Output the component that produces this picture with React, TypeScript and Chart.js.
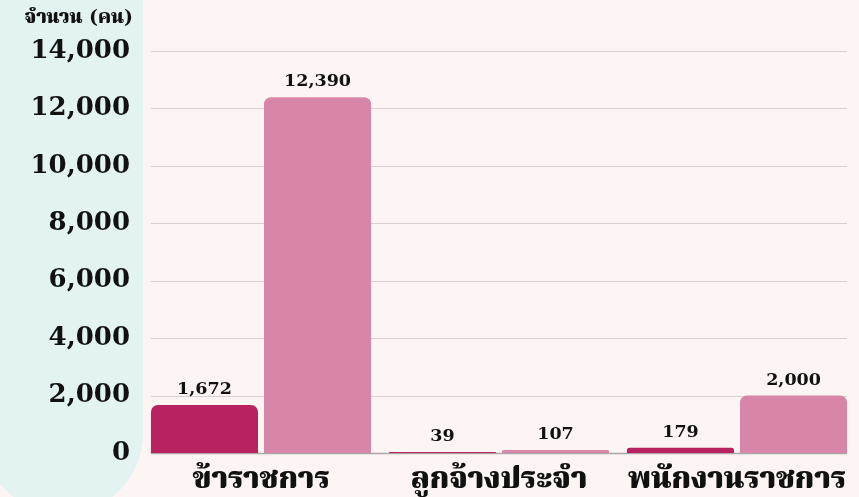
import React, { useEffect, useRef } from "react";
import { Chart, registerables } from "chart.js";

Chart.register(...registerables);

const categories = ["ข้าราชการ", "ลูกจ้างประจำ", "พนักงานราชการ"];
const seriesNames = ["ชาย", "หญิง"];
const seriesA = [1672, 39, 179];
const seriesB = [12390, 107, 2000];
const yTickValues = [0, 2000, 4000, 6000, 8000, 10000, 12000, 14000];
const yTitle = "จำนวน (คน)";

const colorA = "#b8235f";
const colorB = "#d886a7";
const bgColor = "#fdf5f4";
const panelColor = "#e3f3f2";
const gridColor = "#d8d0cf";
const zeroColor = "#aea6a6";
const numFont = "'DejaVu Serif', serif";
const thaiFont = "'DejaVu Serif', 'Noto Serif Thai', 'Noto Sans Thai', serif";

const fmt = (v: number) => v.toLocaleString("en-US");

const gridPlugin = {
  id: "customGrid",
  beforeDatasetsDraw(chart: any) {
    const ctx = chart.ctx;
    const ys = chart.scales.y;
    const first = chart.getDatasetMeta(0).data[0];
    const lastMeta = chart.getDatasetMeta(chart.data.datasets.length - 1).data;
    const last = lastMeta[lastMeta.length - 1];
    const left = first.x - first.width / 2;
    const right = last.x + last.width / 2;
    ctx.save();
    yTickValues.forEach((v) => {
      const py = Math.round(ys.getPixelForValue(v)) + 0.5;
      ctx.strokeStyle = v === 0 ? zeroColor : gridColor;
      ctx.lineWidth = v === 0 ? 1.5 : 1.2;
      ctx.beginPath();
      ctx.moveTo(left, py);
      ctx.lineTo(right, py);
      ctx.stroke();
    });
    ctx.restore();
  },
  afterDatasetsDraw(chart: any) {
    const ctx = chart.ctx;
    ctx.save();
    ctx.fillStyle = "#111";
    ctx.font = `bold 17.5px ${numFont}`;
    ctx.textAlign = "center";
    ctx.textBaseline = "alphabetic";
    chart.data.datasets.forEach((ds: any, di: number) => {
      chart.getDatasetMeta(di).data.forEach((bar: any, i: number) => {
        ctx.fillText(fmt(ds.data[i]), bar.x, bar.y - 11);
      });
    });
    const ys = chart.scales.y;
    ctx.font = `900 19px ${thaiFont}`;
    ctx.textAlign = "right";
    ctx.textBaseline = "middle";
    ctx.fillText(yTitle, ys.right - 9, chart.chartArea.top - 33);
    ctx.restore();
  },
};

function BarChart() {
  const ref = useRef<HTMLCanvasElement | null>(null);
  useEffect(() => {
    if (!ref.current) return;
    const chart = new Chart(ref.current, {
      type: "bar",
      data: {
        labels: categories,
        datasets: [
          {
            label: seriesNames[0],
            data: seriesA,
            backgroundColor: colorA,
            borderRadius: 7,
            borderSkipped: "start",
            categoryPercentage: 0.95,
            barPercentage: 0.947,
          },
          {
            label: seriesNames[1],
            data: seriesB,
            backgroundColor: colorB,
            borderRadius: 7,
            borderSkipped: "start",
            categoryPercentage: 0.95,
            barPercentage: 0.947,
          },
        ],
      },
      options: {
        responsive: false,
        animation: false,
        layout: { padding: { top: 51, right: 3, left: 0, bottom: 0 } },
        plugins: {
          legend: { display: false },
          tooltip: { enabled: false },
          title: { display: false },
        },
        scales: {
          x: {
            grid: { display: false, drawTicks: false },
            border: { display: false },
            ticks: {
              color: "#111",
              font: { family: thaiFont, size: 30, weight: "900" },
              padding: 9,
            },
            afterFit: (s: any) => {
              s.height = 44;
            },
          },
          y: {
            min: 0,
            max: 14000,
            grid: { display: false, drawTicks: false },
            border: { display: false },
            ticks: {
              stepSize: 2000,
              color: "#111",
              padding: 12,
              font: { family: numFont, size: 26, weight: "bold" },
              callback: (v: any) => fmt(Number(v)),
            },
            afterFit: (s: any) => {
              s.width = 142;
            },
          },
        },
      },
      plugins: [gridPlugin],
    });
    return () => chart.destroy();
  }, []);
  return (
    <canvas
      ref={ref}
      width={859}
      height={497}
      style={{ position: "absolute", left: 0, top: 0, width: 859, height: 497 }}
    />
  );
}

export default function App() {
  return (
    <div
      style={{
        position: "fixed",
        left: 0,
        top: 0,
        width: 859,
        height: 497,
        background: bgColor,
        overflow: "hidden",
      }}
    >
      <div
        style={{
          position: "absolute",
          left: -17,
          top: -100,
          width: 160,
          height: 614,
          borderRadius: 80,
          background: panelColor,
        }}
      />
      <BarChart />
    </div>
  );
}
